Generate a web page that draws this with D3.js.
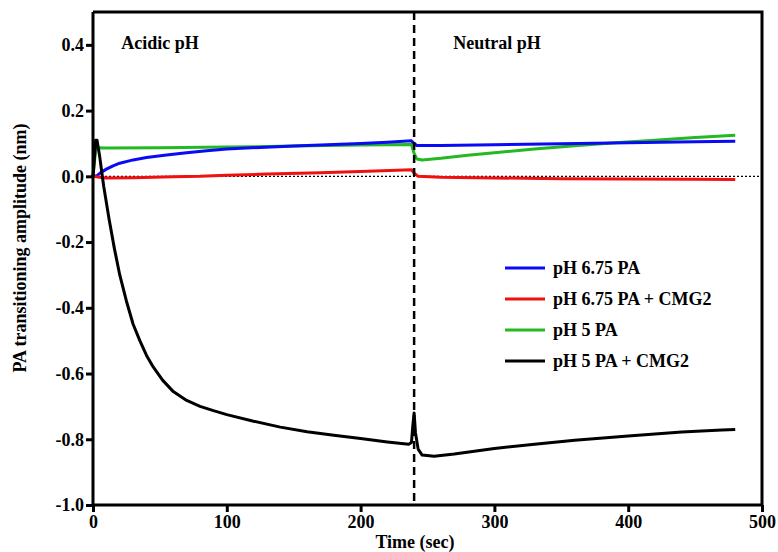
<!DOCTYPE html>
<html>
<head>
<meta charset="utf-8">
<script src="https://cdn.jsdelivr.net/npm/d3@7"></script>
<style>
  body { margin: 0; background: #fff; }
  svg text { font-family: "Liberation Serif", "Times New Roman", serif; font-weight: bold; }
</style>
</head>
<body>
<div id="chart"></div>
<script>
// series: [time (sec), amplitude (nm)]
const blueData = [[0,0],[3,0.002],[6,0.012],[10,0.022],[15,0.032],[20,0.04],[30,0.05],[40,0.057],[55,0.065],[70,0.072],[85,0.078],[100,0.083],[125,0.088],[150,0.092],[175,0.096],[200,0.1],[220,0.104],[238,0.108],[240,0.1],[242,0.094],[260,0.094],[300,0.096],[350,0.099],[400,0.102],[450,0.105],[480,0.107]];
const redData = [[0,0],[5,-0.003],[10,-0.005],[30,-0.004],[60,-0.001],[80,0.0],[100,0.003],[130,0.007],[170,0.011],[200,0.015],[238,0.02],[240,0.01],[243,0.0],[260,-0.003],[300,-0.005],[350,-0.007],[400,-0.008],[450,-0.009],[480,-0.01]];
const greenData = [[0,0],[1,0.04],[2,0.08],[3,0.087],[10,0.086],[50,0.087],[100,0.089],[150,0.092],[200,0.095],[238,0.097],[240,0.07],[242,0.053],[246,0.05],[260,0.055],[280,0.064],[300,0.072],[330,0.083],[360,0.093],[390,0.102],[420,0.11],[450,0.118],[480,0.125]];
const blackData = [[0,0],[1,0.05],[2,0.11],[3,0.11],[5,0.06],[8,-0.03],[12,-0.13],[16,-0.22],[20,-0.3],[25,-0.38],[30,-0.45],[35,-0.5],[40,-0.545],[45,-0.58],[52,-0.62],[60,-0.655],[70,-0.682],[80,-0.7],[90,-0.713],[100,-0.725],[120,-0.745],[140,-0.763],[160,-0.777],[180,-0.788],[200,-0.798],[220,-0.808],[236,-0.815],[238,-0.81],[239,-0.76],[240,-0.72],[241,-0.78],[243,-0.83],[246,-0.848],[255,-0.852],[270,-0.845],[300,-0.828],[330,-0.815],[360,-0.803],[400,-0.79],[440,-0.778],[470,-0.772],[480,-0.77]];

const seriesNames = ["pH 6.75 PA", "pH 6.75 PA + CMG2", "pH 5 PA", "pH 5 PA + CMG2"];
const seriesColors = ["#0a0af5", "#f01010", "#22b922", "#000000"];
const seriesData = [blueData, redData, greenData, blackData];
const drawOrder = [2, 0, 1, 3];

const xTicks = [0, 100, 200, 300, 400, 500];
const yTicks = [-1.0, -0.8, -0.6, -0.4, -0.2, 0.0, 0.2, 0.4];
const phLabels = [{t: 7, text: "Acidic pH"}, {t: 255, text: "Neutral pH"}];
const switchTime = 240;

const width = 778, height = 552;
const margin = {top: 12, right: 16, bottom: 47, left: 93};

const svg = d3.select("#chart").append("svg")
  .attr("width", width)
  .attr("height", height);

const x = d3.scaleLinear().domain([0, 500]).range([margin.left, width - margin.right]);
const y = d3.scaleLinear().domain([-1.0, 0.5]).range([height - margin.bottom, margin.top]);

// zero reference line
svg.append("line")
  .attr("x1", x(0)).attr("x2", x(500))
  .attr("y1", y(0)).attr("y2", y(0))
  .attr("stroke", "#000").attr("stroke-width", 1.2)
  .attr("stroke-dasharray", "2,2");

// data lines
const line = d3.line().x(d => x(d[0])).y(d => y(d[1]));
drawOrder.forEach(i => {
  svg.append("path")
    .datum(seriesData[i])
    .attr("fill", "none")
    .attr("stroke", seriesColors[i])
    .attr("stroke-width", 3)
    .attr("stroke-linejoin", "round")
    .attr("d", line);
});

// pH switch
svg.append("line")
  .attr("x1", x(switchTime)).attr("x2", x(switchTime))
  .attr("y1", y(0.5)).attr("y2", y(-1.0))
  .attr("stroke", "#000").attr("stroke-width", 2.5)
  .attr("stroke-dasharray", "8,5");

// frame top / right
svg.append("path")
  .attr("d", `M${x(0)},${y(0.5)}H${x(500)}V${y(-1.0)}`)
  .attr("fill", "none").attr("stroke", "#000").attr("stroke-width", 3);

// axes
const xAxis = d3.axisBottom(x).tickValues(xTicks).tickFormat(d3.format("d")).tickSize(7).tickPadding(3);
const yAxis = d3.axisLeft(y).tickValues(yTicks).tickFormat(d => d3.format(".1f")(d).replace("−", "-")).tickSize(7).tickPadding(2);

const gx = svg.append("g").attr("transform", `translate(0,${y(-1.0)})`).call(xAxis);
const gy = svg.append("g").attr("transform", `translate(${x(0)},0)`).call(yAxis);
[gx, gy].forEach(g => {
  g.attr("font-family", "'Liberation Serif', serif");
  g.select(".domain").attr("stroke-width", 3);
  g.selectAll(".tick line").attr("stroke-width", 3);
  g.selectAll(".tick text").attr("font-size", 18).attr("fill", "#000");
});
gy.select(".domain").attr("d", `M0,${y(0.5)}V${y(-1.0)}`);
gx.select(".domain").attr("d", `M${x(0)},0H${x(500)}`);

// axis titles
svg.append("text")
  .attr("x", 415).attr("y", 548)
  .attr("text-anchor", "middle").attr("font-size", 18)
  .text("Time (sec)");
svg.append("text")
  .attr("transform", "translate(26,248) rotate(-90)")
  .attr("text-anchor", "middle").attr("font-size", 18)
  .text("PA transitioning amplitude (nm)");

// region labels
phLabels.forEach(p => {
  svg.append("text")
    .attr("x", x(p.t) + 19).attr("y", 49)
    .attr("font-size", 18)
    .text(p.text);
});

// legend
const legend = svg.append("g").attr("transform", "translate(505,268)");
seriesNames.forEach((name, i) => {
  const row = legend.append("g").attr("transform", `translate(0,${i * 31})`);
  row.append("line").attr("x1", 0).attr("x2", 40).attr("y1", 0).attr("y2", 0)
    .attr("stroke", seriesColors[i]).attr("stroke-width", 3);
  row.append("text").attr("x", 48).attr("y", 6).attr("font-size", 18).text(name);
});
</script>
</body>
</html>
